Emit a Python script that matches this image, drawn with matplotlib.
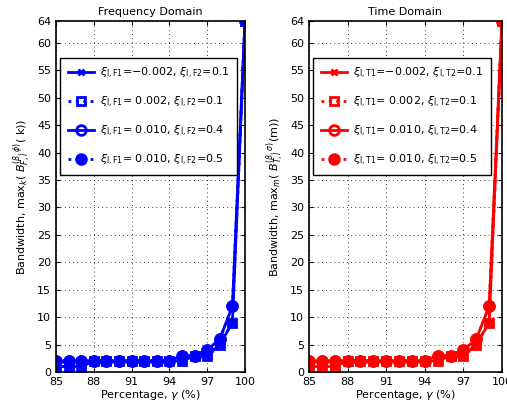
import matplotlib
matplotlib.use("Agg")
import matplotlib.pyplot as plt

gamma = [85, 86, 87, 88, 89, 90, 91, 92, 93, 94, 95, 96, 97, 98, 99, 100]
s1 = [1, 1, 1, 2, 2, 2, 2, 2, 2, 2, 2, 3, 3, 5, 9, 64]
s2 = [1, 1, 1, 2, 2, 2, 2, 2, 2, 2, 2, 3, 3, 5, 9, 64]
s3 = [2, 2, 2, 2, 2, 2, 2, 2, 2, 2, 3, 3, 4, 6, 12, 64]
s4 = [2, 2, 2, 2, 2, 2, 2, 2, 2, 2, 3, 3, 4, 6, 12, 64]
xticks = [85, 88, 91, 94, 97, 100]
yticks = [0, 5, 10, 15, 20, 25, 30, 35, 40, 45, 50, 55, 60, 64]

titles = ["Frequency Domain", "Time Domain"]
colors = ["#0000ff", "#ff0000"]
ylabels = [r"Bandwidth, max$_k$( $B_{F,l}^{(\beta,\phi)}$( k))",
           r"Bandwidth, max$_m$( $B_{T,l}^{(\beta,\sigma)}$(m))"]
labels_f = [r"$\xi_{\mathrm{l,F1}}$=−0.002, $\xi_{\mathrm{l,F2}}$=0.1",
            r"$\xi_{\mathrm{l,F1}}$= 0.002, $\xi_{\mathrm{l,F2}}$=0.1",
            r"$\xi_{\mathrm{l,F1}}$= 0.010, $\xi_{\mathrm{l,F2}}$=0.4",
            r"$\xi_{\mathrm{l,F1}}$= 0.010, $\xi_{\mathrm{l,F2}}$=0.5"]
labels_t = [r"$\xi_{\mathrm{l,T1}}$=−0.002, $\xi_{\mathrm{l,T2}}$=0.1",
            r"$\xi_{\mathrm{l,T1}}$= 0.002, $\xi_{\mathrm{l,T2}}$=0.1",
            r"$\xi_{\mathrm{l,T1}}$= 0.010, $\xi_{\mathrm{l,T2}}$=0.4",
            r"$\xi_{\mathrm{l,T1}}$= 0.010, $\xi_{\mathrm{l,T2}}$=0.5"]

plt.rcParams['font.family'] = ['DejaVu Sans']
plt.rcParams['mathtext.fontset'] = 'dejavusans'

fig = plt.figure(figsize=(5.07, 4.13), dpi=100)
axes = [fig.add_axes([56/507, 1-372/413, 189/507, 351/413]),
        fig.add_axes([309/507, 1-372/413, 193/507, 351/413])]

for ax, title, c, yl, labs in zip(axes, titles, colors, ylabels, [labels_f, labels_t]):
    ax.plot(gamma, s1, '-', color=c, lw=2, marker='x', ms=5, mew=2, label=labs[0])
    ax.plot(gamma, s2, ':', color=c, lw=2, marker='s', ms=6, mfc='none', mew=2, label=labs[1])
    ax.plot(gamma, s3, '-', color=c, lw=2, marker='o', ms=7, mfc='none', mew=2, label=labs[2])
    ax.plot(gamma, s4, ':', color=c, lw=2, marker='o', ms=7, mfc=c, mew=2, label=labs[3])
    ax.set_xlim(85, 100)
    ax.set_ylim(0, 64)
    ax.set_xticks(xticks)
    ax.set_yticks(yticks)
    ax.tick_params(direction='in', top=True, right=True, labelsize=8, length=3)
    ax.grid(True, linestyle=(0, (1, 4)), color='black', lw=0.6)
    for sp in ax.spines.values():
        sp.set_linewidth(1.2)
    ax.set_title(title, fontsize=8, pad=4)
    ax.set_xlabel(r"Percentage, $\gamma$ (%)", fontsize=8, labelpad=1)
    ax.set_ylabel(yl, fontsize=8, labelpad=2)
    leg = ax.legend(loc='upper left', bbox_to_anchor=(0.02, 0.895), fontsize=8,
                    fancybox=False, framealpha=1, edgecolor='black',
                    handlelength=2.4, handletextpad=0.5, borderpad=0.7,
                    labelspacing=1.25, borderaxespad=0)
    leg.get_frame().set_linewidth(1.0)

fig.savefig("out.png", dpi=100)
